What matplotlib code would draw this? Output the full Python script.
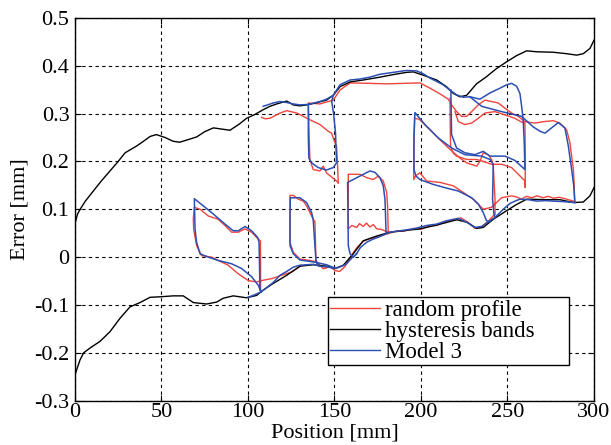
import numpy as np
import matplotlib
matplotlib.use('Agg')
import matplotlib.pyplot as plt
from matplotlib.lines import Line2D

plt.rcParams['font.family'] = ['Liberation Serif', 'DejaVu Serif']
plt.rcParams['font.size'] = 16
plt.rcParams['axes.unicode_minus'] = False

# hysteresis bands (black)
upper_x = [0, 1.5, 3, 6, 10.6, 15, 20, 25, 29, 35.6, 40, 43.4, 47, 52, 56.8, 60.5, 65, 70.3, 75, 80,
           85.8, 89.6, 95, 99.2, 104, 108.8, 112.7, 116.6, 122.4, 126.2, 130, 133.9, 139, 145.4, 149.3,
           153.2, 159, 166.6, 176.3, 185, 191.7, 195.6, 201.4, 209.1, 214.8, 218.7, 222.5, 226.4, 232.1,
           237.9, 243.7, 249.5, 255.3, 261.1, 266.9, 276.5, 284.2, 290, 293.8, 297.7, 300]
upper_y = [0.07, 0.09, 0.1, 0.117, 0.138, 0.158, 0.179, 0.2, 0.218, 0.232, 0.243, 0.252, 0.256, 0.25,
           0.242, 0.24, 0.245, 0.251, 0.262, 0.27, 0.267, 0.265, 0.278, 0.29, 0.298, 0.308, 0.315, 0.32,
           0.326, 0.318, 0.316, 0.318, 0.322, 0.328, 0.338, 0.356, 0.366, 0.37, 0.376, 0.382, 0.386, 0.387,
           0.38, 0.37, 0.356, 0.342, 0.335, 0.338, 0.362, 0.377, 0.394, 0.408, 0.421, 0.431, 0.429, 0.428,
           0.425, 0.422, 0.425, 0.436, 0.453]
lower_x = [0, 1.5, 2.9, 5, 8.7, 14.5, 20.2, 26, 31.8, 37.6, 43.4, 49, 56.8, 62.6, 68.4, 76.1, 81.9, 85.7,
           91.5, 99.2, 105, 108.8, 114.6, 122.4, 130.1, 137.8, 145.4, 150.3, 155.1, 160.9, 166.6, 174.4,
           182.1, 189.8, 199.4, 209.1, 220.7, 226.4, 232.2, 236, 241.8, 249.5, 255.3, 261.1, 272.6, 280.3,
           288, 293.8, 297.7, 300]
lower_y = [-0.246, -0.23, -0.215, -0.2, -0.19, -0.176, -0.156, -0.128, -0.104, -0.095, -0.084, -0.083,
           -0.081, -0.081, -0.095, -0.098, -0.094, -0.086, -0.081, -0.085, -0.08, -0.069, -0.055, -0.038,
           -0.019, -0.016, -0.019, -0.024, -0.017, 0.007, 0.034, 0.044, 0.052, 0.055, 0.059, 0.067, 0.078,
           0.073, 0.06, 0.062, 0.079, 0.097, 0.11, 0.121, 0.12, 0.12, 0.114, 0.115, 0.128, 0.145]

# Model 3 (blue)
blue_band_x = [100, 103, 107.5, 110, 114.6, 118.5, 122.4, 126.2, 130, 134, 137.8, 141.6, 145.4, 149.3, 152,
               155, 157, 160, 162.8, 165, 168.6, 172, 176.3, 182, 187.9, 195.6, 203.3, 209.1, 214.8, 221.6,
               227.5, 231.2, 235.1, 238.9, 242.8, 247.6, 251.4, 255, 257.2, 262, 266.9, 272, 276.5, 282, 289]
blue_band_y = [-0.084, -0.08, -0.073, -0.066, -0.053, -0.038, -0.03, -0.021, -0.017, -0.016, -0.015, -0.019,
               -0.02, -0.023, -0.022, -0.018, -0.014, -0.002, 0.007, 0.02, 0.031, 0.037, 0.043, 0.052, 0.055,
               0.059, 0.066, 0.069, 0.076, 0.081, 0.071, 0.062, 0.064, 0.074, 0.083, 0.1, 0.112, 0.118, 0.121,
               0.12, 0.117, 0.118, 0.117, 0.116, 0.114]
blue_loop1_x = [107.5, 106.9, 106.6, 106.4, 105.6, 102.1, 98.3, 94.4, 91.5, 86.7, 79, 69, 69.2, 69.4, 70.3,
                72.3, 77, 82.8, 90.6, 96.4, 102.1, 106, 107.5]
blue_loop1_y = [-0.073, -0.066, 0.0, 0.031, 0.041, 0.055, 0.064, 0.055, 0.055, 0.069, 0.093, 0.122, 0.09,
                0.059, 0.031, 0.007, 0.0, -0.007, -0.014, -0.024, -0.041, -0.059, -0.073]
blue_loop2_x = [141, 139.3, 138.7, 137.7, 136.8, 133.9, 130, 124.5, 124.3, 124.3, 126.2, 130, 137.7, 145.5, 150.3]
blue_loop2_y = [-0.019, -0.007, 0.024, 0.079, 0.093, 0.114, 0.124, 0.124, 0.09, 0.024, 0.007, -0.006, -0.01,
                -0.016, -0.023]
blue_upper_x = [108.8, 114.6, 118.5, 122.4, 126.2, 130, 134.9, 141.6, 145.4, 149.3, 153.2, 159, 164.7, 170.5,
                176.3, 184, 191.7, 197.5, 201.4, 205.2, 209.1, 212.8, 216.7, 220.6, 224.5, 228.3]
blue_upper_y = [0.315, 0.322, 0.325, 0.323, 0.32, 0.318, 0.319, 0.325, 0.33, 0.338, 0.36, 0.37, 0.372, 0.376,
                0.382, 0.386, 0.39, 0.389, 0.383, 0.374, 0.367, 0.36, 0.349, 0.339, 0.334, 0.335]
blue_loop3_x = [134.9, 134.9, 135.2, 136.8, 140.6, 145.4, 149.3, 151.2, 150.6, 149.5, 148.4, 149.3]
blue_loop3_y = [0.319, 0.25, 0.207, 0.197, 0.187, 0.182, 0.187, 0.197, 0.26, 0.3, 0.325, 0.338]
blue_loop4_x = [179.8, 179.5, 179.2, 178.2, 176.3, 173.4, 170.5, 164, 157.6, 157.8, 158, 159, 161, 162.8]
blue_loop4_y = [0.052, 0.09, 0.121, 0.149, 0.166, 0.177, 0.18, 0.168, 0.156, 0.1, 0.024, 0.007, 0.0, 0.007]
blue_loop5_x = [242.8, 242.2, 241.4, 241.8, 239.9, 235.1, 225.4, 217.7, 210, 202.3, 196.5, 196, 196, 197,
                199.4, 207, 213.9, 221.6, 229.3, 233.1, 236, 237.9, 239.9]
blue_loop5_y = [0.083, 0.09, 0.121, 0.194, 0.204, 0.211, 0.214, 0.228, 0.249, 0.277, 0.302, 0.25, 0.183, 0.17,
                0.162, 0.152, 0.145, 0.138, 0.124, 0.111, 0.093, 0.076, 0.074]
blue_loop6_x = [217.3, 217.5, 217.7, 220.6, 225.4, 231.2, 236, 239.9, 248.6, 254.3, 260.1, 259.7, 259.1, 258.2,
                257.2, 255.3, 252.4, 249.5, 245.7, 239.9, 234.1, 228.3]
blue_loop6_y = [0.349, 0.3, 0.256, 0.228, 0.218, 0.214, 0.221, 0.211, 0.211, 0.202, 0.183, 0.239, 0.287, 0.315,
                0.342, 0.357, 0.363, 0.36, 0.353, 0.343, 0.33, 0.335]
blue_loop7_x = [228.3, 235.1, 246.6, 258.2, 264.9, 268.8, 271.7, 275.5, 279.4, 283.2, 285.2, 287.1, 288.3, 289]
blue_loop7_y = [0.335, 0.315, 0.304, 0.294, 0.272, 0.263, 0.259, 0.27, 0.281, 0.27, 0.232, 0.183, 0.15, 0.114]

# random profile (red)
red_loop1_x = [107.3, 107.3, 107.2, 105, 102.1, 98.3, 94.4, 90.6, 86.7, 82.8, 77, 72.3, 69, 68.4, 68.6, 70.3,
               73.2, 79, 82.8, 88.6, 94.4, 100.2, 105, 107.9, 113.7, 119.5, 125.3, 131]
red_loop1_y = [-0.07, -0.02, 0.034, 0.041, 0.052, 0.059, 0.052, 0.052, 0.066, 0.079, 0.086, 0.1, 0.104, 0.08,
               0.059, 0.024, 0.003, 0.0, -0.007, -0.017, -0.035, -0.049, -0.052, -0.049, -0.045, -0.038,
               -0.031, -0.017]
red_loop2_x = [139.7, 139.3, 138.7, 137.7, 135.8, 133.9, 132, 129.1, 126.2, 124.3, 124.3, 124.3, 126.2, 130,
               135.8, 139.7, 143.5, 147.4]
red_loop2_y = [-0.012, -0.007, 0.075, 0.079, 0.093, 0.107, 0.117, 0.121, 0.129, 0.129, 0.08, 0.031, 0.01,
               -0.004, -0.007, -0.01, -0.024, -0.02]
red_upper_x = [107.9, 110, 112.7, 118.5, 122.4, 128.2, 135.8, 141.6, 146.4, 148.3, 150.3, 151.2, 151.7, 152.2]
red_upper_y = [0.292, 0.289, 0.29, 0.301, 0.306, 0.301, 0.287, 0.277, 0.263, 0.259, 0.239, 0.232, 0.2, 0.155]
red_loop3_x = [152.2, 151.2, 145.4, 143.5, 141.6, 137.7, 135.8, 135.3, 134.9, 141.6, 149.3, 153.2, 159, 170.5,
               180.2, 189.8, 199.4, 205.2, 211, 215.8, 217.7, 220.6, 223.5, 226.4, 229.3, 233.1, 237, 240.8,
               244.7, 248.6, 252.4, 256.3, 260.1, 265.9, 270.7, 276.5, 280.3, 284.2, 286.1, 288.1, 288.6, 288.8]
red_loop3_y = [0.155, 0.159, 0.176, 0.19, 0.18, 0.183, 0.204, 0.26, 0.322, 0.32, 0.328, 0.349, 0.364, 0.363,
               0.362, 0.363, 0.364, 0.353, 0.341, 0.33, 0.318, 0.304, 0.294, 0.294, 0.304, 0.318, 0.328, 0.325,
               0.322, 0.311, 0.301, 0.294, 0.283, 0.28, 0.283, 0.285, 0.28, 0.266, 0.239, 0.183, 0.15, 0.117]
red_loop4_x = [181.1, 180.9, 180.7, 180.2, 178.2, 175.3, 172.4, 168.6, 164.7, 158, 158, 158, 160, 162.8, 164.5,
               166.6, 168.5, 170.5, 172.5, 174.4, 177, 181.1]
red_loop4_y = [0.052, 0.08, 0.107, 0.135, 0.159, 0.169, 0.162, 0.166, 0.173, 0.173, 0.12, 0.059, 0.066, 0.062,
               0.07, 0.064, 0.071, 0.063, 0.068, 0.059, 0.058, 0.052]
red_loop5_x = [242.8, 242.8, 241.8, 240.8, 238.9, 236, 234.1, 232.2, 226.4, 222.5, 216.8, 211, 205.2, 199,
               196.3, 195.8, 195.8, 197, 199.4, 203.3, 211, 218.7, 224.5, 230.2, 234.1, 236, 240.8, 246.6,
               252.4, 255, 258.2, 261, 264, 267, 270.7, 273.5, 276.5, 280, 284.2, 288.1]
red_loop5_y = [0.09, 0.121, 0.19, 0.204, 0.214, 0.218, 0.2, 0.19, 0.197, 0.207, 0.225, 0.245, 0.266, 0.288,
               0.29, 0.23, 0.162, 0.17, 0.176, 0.159, 0.156, 0.149, 0.135, 0.121, 0.107, 0.1, 0.104, 0.124,
               0.128, 0.126, 0.121, 0.127, 0.124, 0.128, 0.124, 0.127, 0.123, 0.125, 0.121, 0.117]
red_loop6_x = [216.8, 216.9, 217.1, 218.5, 220.6, 226.4, 232.1, 236, 240.8, 246.6, 252.4, 256.3, 260.1, 260.3,
               260.3, 260.1, 258.2, 254.3, 248.6, 242.8, 237, 233.1, 229.3, 225.4, 221.6, 219.7]
red_loop6_y = [0.332, 0.28, 0.232, 0.218, 0.211, 0.204, 0.204, 0.2, 0.194, 0.194, 0.187, 0.173, 0.159, 0.145,
               0.22, 0.28, 0.282, 0.29, 0.297, 0.304, 0.301, 0.29, 0.28, 0.277, 0.283, 0.304]
red_band_x = [143.5, 147.4, 150.3, 153, 156, 158.5, 161, 163, 166.6, 170, 174.4, 178, 182, 186, 190, 195.6,
              200, 205, 209.1, 214.8, 220, 223, 227.5, 231.2, 235.1, 238.9, 242.8]
red_band_y = [-0.024, -0.02, -0.028, -0.03, -0.02, -0.005, 0.01, 0.02, 0.033, 0.038, 0.042, 0.046, 0.05,
              0.055, 0.054, 0.06, 0.058, 0.066, 0.066, 0.075, 0.078, 0.082, 0.072, 0.06, 0.063, 0.075, 0.09]

red_c = '#f0443c'
blue_c = '#2c50b2'

red_parts = [(red_loop1_x, red_loop1_y), (red_loop2_x, red_loop2_y), (red_upper_x, red_upper_y),
             (red_loop3_x, red_loop3_y), (red_loop4_x, red_loop4_y), (red_loop5_x, red_loop5_y),
             (red_loop6_x, red_loop6_y), (red_band_x, red_band_y)]
blue_parts = [(blue_band_x, blue_band_y), (blue_loop1_x, blue_loop1_y), (blue_loop2_x, blue_loop2_y),
              (blue_upper_x, blue_upper_y), (blue_loop3_x, blue_loop3_y), (blue_loop4_x, blue_loop4_y),
              (blue_loop5_x, blue_loop5_y), (blue_loop6_x, blue_loop6_y), (blue_loop7_x, blue_loop7_y)]

fig = plt.figure(figsize=(6.11, 4.45), dpi=100)
ax = fig.add_axes([0.1227, 0.0996, 0.8494, 0.8604])

for xs, ys in red_parts:
    ax.plot(xs, ys, color=red_c, lw=1.0)
ax.plot(upper_x, upper_y, color='k', lw=1.0)
ax.plot(lower_x, lower_y, color='k', lw=1.0)
for xs, ys in blue_parts:
    ax.plot(xs, ys, color=blue_c, lw=1.1)

ax.set_xlim(0, 300)
ax.set_ylim(-0.3, 0.5)
xticks = [0, 50, 100, 150, 200, 250, 300]
yticks = [-0.3, -0.2, -0.1, 0, 0.1, 0.2, 0.3, 0.4, 0.5]
ytick_labels = ['-0.3', '-0.2', '-0.1', '0', '0.1', '0.2', '0.3', '0.4', '0.5']
ax.set_xticks(xticks)
ax.set_xticklabels([str(t) for t in xticks])
ax.set_yticks(yticks)
ax.set_yticklabels(ytick_labels)
ax.grid(True, color='k', linestyle=(0, (3, 3)), lw=0.8)
ax.tick_params(direction='in', top=True, right=True, length=4)
ax.tick_params(axis='x', pad=2)
ax.tick_params(axis='y', pad=4)
for s in ax.spines.values():
    s.set_linewidth(1.0)

ax.set_xlabel('Position [mm]', labelpad=1)
ax.set_ylabel('Error [mm]', labelpad=3)

handles = [Line2D([0], [0], color=red_c, lw=1.0),
           Line2D([0], [0], color='k', lw=1.0),
           Line2D([0], [0], color=blue_c, lw=1.0)]
leg = ax.legend(handles, ['random profile', 'hysteresis bands', 'Model 3'], loc='lower left',
                bbox_to_anchor=(0.487, 0.093, 0.465, 0.17), mode='expand', fancybox=False,
                edgecolor='k', framealpha=1, borderpad=0.1, labelspacing=0.0, handlelength=2.2,
                handletextpad=0.2, borderaxespad=0, prop={'size': 16.5})
leg.get_frame().set_linewidth(1.0)

fig.savefig('out.png', dpi=100)
